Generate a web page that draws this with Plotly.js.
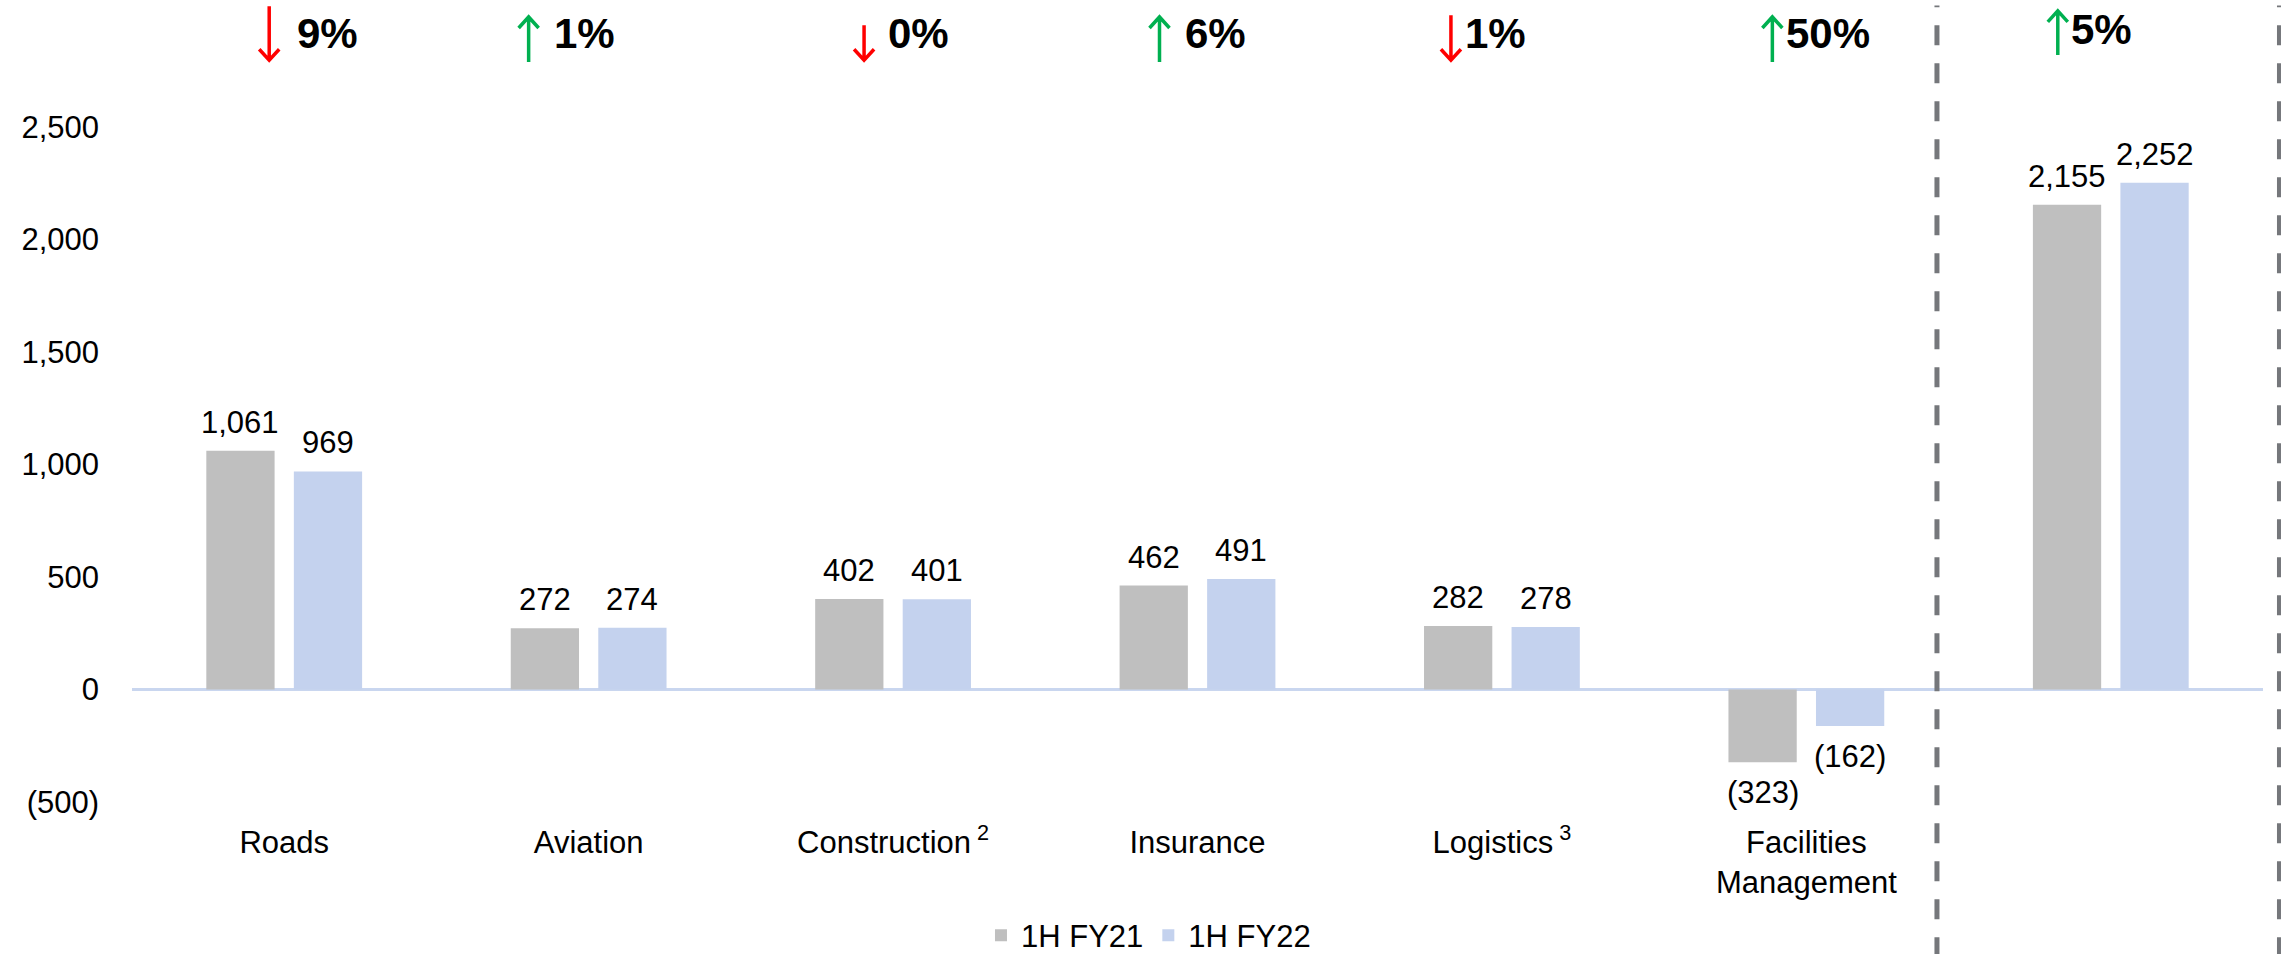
<!DOCTYPE html>
<html>
<head>
<meta charset="utf-8">
<script src="https://cdn.plot.ly/plotly-3.0.1.min.js"></script>
<style>
  html, body { margin: 0; padding: 0; background: #fff; }
  #chart { width: 2288px; height: 954px; }
</style>
</head>
<body>
<div id="chart"></div>
<script>
// segments (the last group is the total, drawn without an axis label)
const categories = ['Roads', 'Aviation', 'Construction', 'Insurance', 'Logistics', 'Facilities Management', 'Total'];
const tickLabels = ['Roads', 'Aviation', 'Construction<sup> 2</sup>', 'Insurance', 'Logistics<sup> 3</sup>', 'Facilities<br>Management'];

const fy21 = [1061, 272, 402, 462, 282, -323, 2155];
const fy22 = [969, 274, 401, 491, 278, -162, 2252];

// change badges above each group
const pctChange = ['9%', '1%', '0%', '6%', '1%', '50%', '5%'];
const pctDir = ['down', 'up', 'down', 'up', 'down', 'up', 'up'];

const yTickVals = [-500, 0, 500, 1000, 1500, 2000, 2500];
const yTickText = ['(500)', '0', '500', '1,000', '1,500', '2,000', '2,500'];

// badge placement tweaks (pixels relative to group centre)
const arrowShift = [-15, -60, -29, -38, -51, -34, -53];
const pctShift = [43, -4, 25, 18, -6, 22, -9];
const arrowLen = [56, 47, 37, 47, 47, 47, 46];

const FONT = 'Arial, "Liberation Sans", sans-serif';
const M = { l: 132, r: 25, t: 127, b: 152 };
const BARGAP = 0.425;
// half the distance between the two bars of a group, in px
const halfPitch = (2288 - M.l - M.r) / categories.length * (1 - BARGAP) / 4;

function fmt(v) {
    const s = Math.abs(v).toLocaleString('en-US');
    return v < 0 ? '(' + s + ')' : s;
}

const traces = [
    { type: 'bar', name: '1H FY21', x: categories, y: fy21, marker: { color: '#bfbfbf' } },
    { type: 'bar', name: '1H FY22', x: categories, y: fy22, marker: { color: '#c4d2ee' } }
];

const annotations = [];
const shapes = [];

// value labels over / under the bars
[fy21, fy22].forEach((series, k) => {
    series.forEach((v, i) => {
        annotations.push({
            x: i, y: v, xref: 'x', yref: 'y', xshift: (k === 0 ? -1 : 1) * halfPitch,
            yanchor: v < 0 ? 'top' : 'bottom', yshift: v < 0 ? -11 : 9,
            text: fmt(v), showarrow: false,
            font: { size: 31, color: '#000', family: FONT }
        });
    });
});

categories.forEach((c, i) => {
    const down = pctDir[i] === 'down';
    annotations.push({
        x: i, xref: 'x', yref: 'paper', y: i === 6 ? 1.145 : 1.138, xshift: pctShift[i],
        yanchor: 'middle', xanchor: 'center',
        text: '<b>' + pctChange[i] + '</b>', showarrow: false,
        font: { size: 42, color: '#000', family: FONT }
    });
    // arrow drawn in pixels around its tip (y up is positive)
    const dx = arrowShift[i];
    const L = arrowLen[i];
    const s = down ? 1 : -1;
    const colr = down ? '#ff0000' : '#00b050';
    const tipY = down ? 1.096 : (i === 6 ? 1.175 : 1.166);
    shapes.push({
        type: 'path', xref: 'x', yref: 'paper', xsizemode: 'pixel', ysizemode: 'pixel',
        xanchor: i, yanchor: tipY,
        path: `M${dx},${s * 2} L${dx},${s * L} M${dx - 10},${s * 13} L${dx},${s * 2} L${dx + 10},${s * 13}`,
        line: { color: colr, width: 3.5 }
    });
});

const dashLine = { color: '#75777b', width: 5, dash: '20px,18px' };
shapes.push(
    { type: 'line', xref: 'paper', yref: 'paper', x0: 0.847, x1: 0.847, y0: -0.23, y1: 1.18, line: dashLine },
    { type: 'line', xref: 'paper', yref: 'paper', x0: 1.0075, x1: 1.0075, y0: -0.23, y1: 1.18, line: Object.assign({}, dashLine, { width: 4 }) }
);

const layout = {
    width: 2288, height: 954,
    margin: Object.assign({ autoexpand: false }, M),
    paper_bgcolor: '#fff', plot_bgcolor: '#fff',
    font: { family: FONT, size: 31, color: '#000' },
    barmode: 'group', bargap: BARGAP, bargroupgap: 0.22,
    showlegend: true,
    legend: {
        orientation: 'h', x: 0.477, xanchor: 'center', y: -0.158, yanchor: 'top',
        font: { size: 31, family: FONT }, traceorder: 'normal'
    },
    xaxis: {
        type: 'category', categoryorder: 'array', categoryarray: categories,
        tickvals: categories.slice(0, 6), ticktext: tickLabels, automargin: false,
        showgrid: false, showline: false, zeroline: false, ticks: '',
        ticklabelstandoff: 19, tickfont: { size: 31, family: FONT }
    },
    yaxis: {
        range: [-500, 2500], tickvals: yTickVals, ticktext: yTickText, automargin: false,
        showgrid: false, showline: false, zeroline: true,
        zerolinecolor: '#c9d6ef', zerolinewidth: 3, ticks: '',
        ticklabelstandoff: 32, tickfont: { size: 31, family: FONT }
    },
    annotations: annotations,
    shapes: shapes,
    hovermode: false
};

Plotly.newPlot('chart', traces, layout, { displayModeBar: false, staticPlot: true });
</script>
</body>
</html>
